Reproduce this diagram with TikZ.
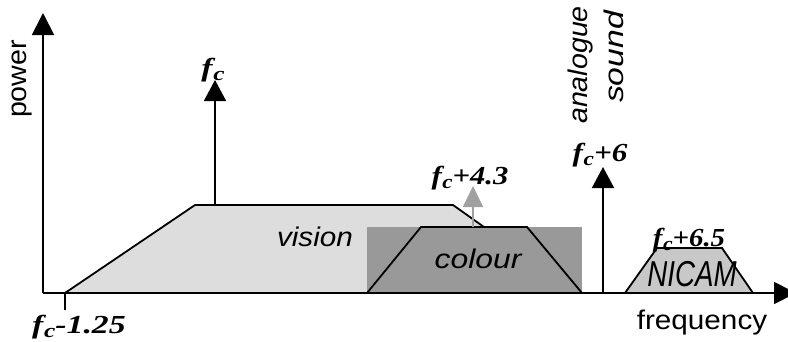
\documentclass[tikz,border=0pt]{standalone}
\usepackage{fontspec}
\setmainfont{Liberation Serif}
\setsansfont{Liberation Sans}
\usetikzlibrary{arrows.meta}
\definecolor{visgray}{RGB}{221,221,221}
\definecolor{colgray}{RGB}{153,153,153}
\definecolor{nicgray}{RGB}{200,200,200}
\definecolor{arrgray}{RGB}{160,160,160}
\newcommand\fcx{f\kern0.02em\raisebox{-0.16em}{\scalebox{0.75}{c}}}
\begin{document}
\begin{tikzpicture}[x=1pt,y=-1pt,line width=1.8pt,
  lab/.style={inner sep=0pt,anchor=base},
  flab/.style={lab,font=\bfseries\itshape\fontsize{26}{26}\selectfont},
  slab/.style={lab,font=\sffamily\itshape},
  head/.style={-{Triangle[width=22pt,length=21pt]}},
  ghead/.style={-{Triangle[width=20pt,length=21pt]}},
  band/.style={draw=black,line join=miter}]
\useasboundingbox (0,0) rectangle (788,341);
% coordinates
\coordinate (o) at (43,293);
\coordinate (ytip) at (43,13);
\coordinate (xtip) at (796,293);
\coordinate (v1) at (65,293);
\coordinate (v2) at (195,205);
\coordinate (v3) at (453,205);
\coordinate (v4) at (577,293);
\coordinate (c1) at (367,293);
\coordinate (c2) at (421,227);
\coordinate (c3) at (527,227);
\coordinate (c4) at (582,293);
\coordinate (cr) at (367,227);
\coordinate (n1) at (625,293);
\coordinate (n2) at (657,248);
\coordinate (n3) at (722,248);
\coordinate (n4) at (753,293);
\coordinate (tick) at (65,310);
\coordinate (fcb) at (215,205);
\coordinate (fct) at (215,80);
\coordinate (gb) at (473,227);
\coordinate (gt) at (473,186);
\coordinate (sb) at (603,293);
\coordinate (st) at (603,167);
% vision band
\draw[band,fill=visgray] (v1) -- (v2) -- (v3) -- (v4) -- cycle;
% colour band
\fill[colgray] (cr) rectangle (c4);
\draw[band,fill=colgray] (c1) -- (c2) -- (c3) -- (c4);
\draw[arrgray,ghead] (gb) -- (gt);
% NICAM band
\draw[band,fill=nicgray] (n1) -- (n2) -- (n3) -- (n4);
% axes
\draw[-{Triangle[width=22pt,length=22pt]}] (o) -- (ytip);
\draw[-{Triangle[width=22pt,length=22pt]}] (o) -- (xtip);
\draw (v1) -- (tick);
% carriers
\draw[head] (fcb) -- (fct);
\draw[head] (sb) -- (st);
% labels
\node[lab,font=\sffamily\fontsize{27}{27}\selectfont,rotate=90,anchor=center] (power) at (22,79) {\scalebox{1.06}[1]{power}};
\node[lab,font=\sffamily\fontsize{27}{27}\selectfont] (freq) at (702,329) {\scalebox{1.1}[1]{frequency}};
\node[slab,font=\sffamily\itshape\fontsize{27}{27}\selectfont] (vision) at (315,246) {\scalebox{1.1}[1]{vision}};
\node[slab,font=\sffamily\itshape\fontsize{27}{27}\selectfont] (colour) at (478,268) {\scalebox{1.18}[1]{colour}};
\node[slab,font=\sffamily\itshape\fontsize{36}{36}\selectfont] (nicam) at (692,286) {\scalebox{0.77}[1]{NICAM}};
\node[slab,font=\sffamily\itshape\fontsize{27}{27}\selectfont,rotate=90,anchor=center] (analogue) at (581,65) {\scalebox{1.06}[1]{analogue}};
\node[slab,font=\sffamily\itshape\fontsize{27}{27}\selectfont,rotate=90,anchor=center] (sound) at (614,57) {\scalebox{1.25}[1]{sound}};
\node[flab] (lfc) at (213,76) {\scalebox{1.3}[1]{\fcx}};
\node[flab] (lfc43) at (470,184) {\scalebox{1.18}[1]{\fcx+4.3}};
\node[flab] (lfc6) at (600,161) {\scalebox{1.2}[1]{\fcx+6}};
\node[flab] (lfc65) at (689,246) {\scalebox{1.11}[1]{\fcx+6.5}};
\node[flab] (lfcm) at (79,333) {\scalebox{1.3}[1]{\fcx-1.25}};
\end{tikzpicture}
\end{document}
